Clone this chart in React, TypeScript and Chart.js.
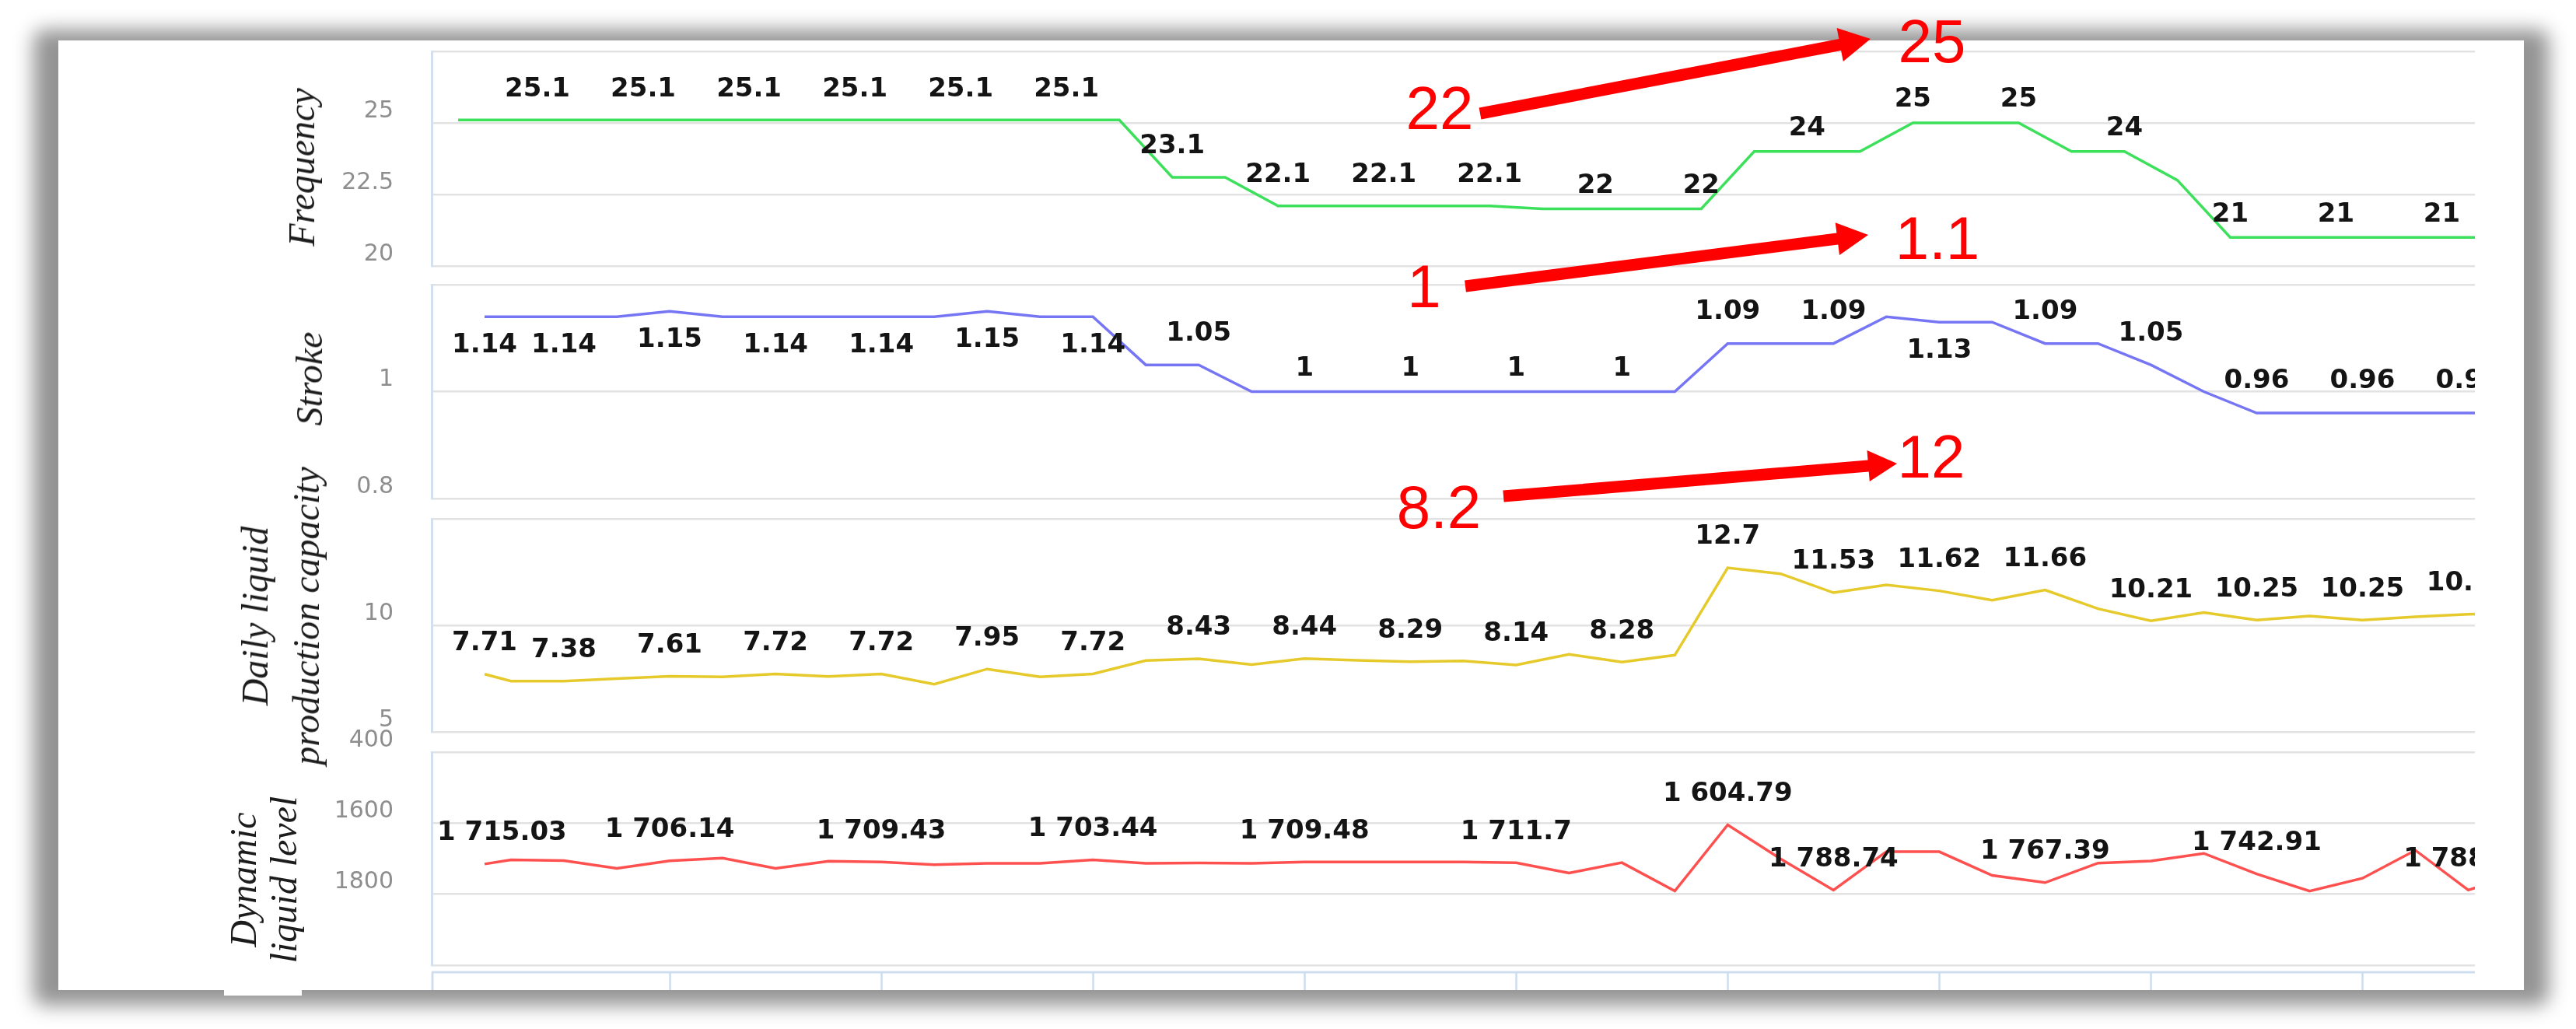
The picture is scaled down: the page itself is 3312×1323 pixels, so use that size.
import { useEffect, useRef } from 'react';
import { Chart, registerables } from 'chart.js';

Chart.register(...registerables);

// ---------------- data ----------------
// x positions are sample indices (one step = one sample slot on the shared time axis)
const freqTimes = [0, 1, 3, 5, 7, 9, 11, 13, 15, 17, 19, 21, 23, 25, 27, 29, 31, 33, 35, 37, 39, 41, 43, 45, 47, 49, 51, 53, 55, 57, 59, 61, 63, 65, 67, 69, 71, 73, 75, 77];
const freqValues = [25.1, 25.1, 25.1, 25.1, 25.1, 25.1, 25.1, 25.1, 25.1, 25.1, 25.1, 25.1, 25.1, 25.1, 23.1, 23.1, 22.1, 22.1, 22.1, 22.1, 22.1, 22, 22, 22, 22, 24, 24, 24, 25, 25, 25, 24, 24, 23, 21, 21, 21, 21, 21, 21];

const sampleTimes = [1, 2, 4, 6, 8, 10, 12, 14, 16, 18, 20, 22, 24, 26, 28, 30, 32, 34, 36, 38, 40, 42, 44, 46, 48, 50, 52, 54, 56, 58, 60, 62, 64, 66, 68, 70, 72, 74, 76, 78];
const strokeValues = [1.14, 1.14, 1.14, 1.14, 1.15, 1.14, 1.14, 1.14, 1.14, 1.14, 1.15, 1.14, 1.14, 1.05, 1.05, 1, 1, 1, 1, 1, 1, 1, 1, 1, 1.09, 1.09, 1.09, 1.14, 1.13, 1.13, 1.09, 1.09, 1.05, 1, 0.96, 0.96, 0.96, 0.96, 0.96, 0.96];
const dailyValues = [7.71, 7.38, 7.38, 7.5, 7.61, 7.58, 7.72, 7.6, 7.72, 7.24, 7.95, 7.58, 7.72, 8.35, 8.43, 8.16, 8.44, 8.36, 8.29, 8.33, 8.14, 8.64, 8.28, 8.6, 12.7, 12.42, 11.53, 11.9, 11.62, 11.18, 11.66, 10.78, 10.21, 10.6, 10.25, 10.44, 10.25, 10.4, 10.52, 10.6];
const levelValues = [1715.03, 1703.2, 1705.26, 1727.1, 1706.14, 1698.4, 1727.35, 1707.2, 1709.43, 1717.1, 1713.12, 1713.3, 1703.44, 1713.2, 1712.31, 1713.1, 1709.48, 1709.3, 1709.21, 1709.1, 1711.7, 1740.2, 1711.26, 1791.1, 1604.79, 1700.3, 1788.74, 1680.2, 1680.52, 1747.3, 1767.39, 1712.4, 1706.33, 1685.2, 1742.91, 1791.3, 1755.21, 1676.4, 1788.35, 1740.2];

const freqTickValues = [20, 22.5, 25, 27.5];
const freqTickLabels = ['20', '22.5', '25', ''];
const strokeTickValues = [0.8, 1, 1.2];
const strokeTickLabels = ['0.8', '1', ''];
const dailyTickValues = [5, 10, 15];
const dailyTickLabels = ['5', '10', ''];
const levelTickValues = [1400, 1600, 1800, 2000];
const levelTickLabels = ['400', '1600', '1800', ''];

const axisTickTimes = [8, 16, 24, 32, 40, 48, 56, 64, 72];

const titles = ['Frequency', 'Stroke', 'Daily liquid\nproduction capacity', 'Dynamic\nliquid level'];

const changeNotes = [
  { from: '22', to: '25' },
  { from: '1', to: '1.1' },
  { from: '8.2', to: '12' },
];

// ---------------- layout ----------------
const FRAME = { left: 75, top: 52, width: 3170, height: 1221 };
const PLOT_RIGHT = 3182; // page x of plot right edge
const AXIS_W = 555 - FRAME.left; // y axis width inside frame
const CANVAS_W = PLOT_RIGHT - FRAME.left;
const X_MIN = -1;
const X_MAX = 76.25;
const PAD = 74;

type Spec = {
  times: number[];
  values: number[];
  color: string;
  min: number;
  max: number;
  reverse?: boolean;
  tickValues: number[];
  tickLabels: string[];
  plotTop: number; // page coords
  plotBottom: number;
  labelPhase: number;
  labelFirst: boolean;
  labelDy: (v: number) => number;
  strip?: boolean;
};

const specs: Spec[] = [
  {
    times: freqTimes, values: freqValues, color: '#3de05b', min: 20, max: 27.5,
    tickValues: freqTickValues, tickLabels: freqTickLabels, plotTop: 66, plotBottom: 342,
    labelPhase: 3, labelFirst: false, labelDy: (v) => (Number.isInteger(v) ? -33 : -43),
  },
  {
    times: sampleTimes, values: strokeValues, color: '#7676f4', min: 0.8, max: 1.2,
    tickValues: strokeTickValues, tickLabels: strokeTickLabels, plotTop: 366, plotBottom: 641,
    labelPhase: 0, labelFirst: true, labelDy: (v) => (v > 1.1 ? 33 : Number.isInteger(v) ? -33 : -44),
  },
  {
    times: sampleTimes, values: dailyValues, color: '#e6ca2c', min: 5, max: 15,
    tickValues: dailyTickValues, tickLabels: dailyTickLabels, plotTop: 667, plotBottom: 941,
    labelPhase: 0, labelFirst: true, labelDy: () => -43,
  },
  {
    times: sampleTimes, values: levelValues, color: '#ff5050', min: 1400, max: 2000, reverse: true,
    tickValues: levelTickValues, tickLabels: levelTickLabels, plotTop: 967, plotBottom: 1241,
    labelPhase: 0, labelFirst: true, labelDy: () => -43, strip: true,
  },
];

function fmt(v: number): string {
  const s = String(v);
  const [ip, dp] = s.split('.');
  const g = ip.replace(/\B(?=(\d{3})+(?!\d))/g, ' ');
  return dp !== undefined ? g + '.' + dp : g;
}

function canvasBox(spec: Spec) {
  const top = spec.plotTop - PAD - FRAME.top;
  const bottom = spec.plotBottom + PAD - FRAME.top;
  return { top, height: bottom - top };
}

function makeLabelPlugin(spec: Spec) {
  return {
    id: 'valueLabels',
    afterDatasetsDraw(chart: any) {
      const ctx: CanvasRenderingContext2D = chart.ctx;
      const xs = chart.scales.x;
      const ys = chart.scales.y;
      const area = chart.chartArea;
      ctx.save();
      ctx.beginPath();
      ctx.rect(area.left, 0, area.right - area.left, chart.height);
      ctx.clip();
      ctx.font = 'bold 34px "DejaVu Sans"';
      ctx.fillStyle = '#141414';
      ctx.textAlign = 'center';
      ctx.textBaseline = 'alphabetic';
      const boxes: { l: number; r: number; t: number; b: number }[] = [];
      spec.times.forEach((t, i) => {
        if (!(t % 4 === spec.labelPhase || (spec.labelFirst && i === 0))) return;
        const v = spec.values[i];
        const text = fmt(v);
        const w = ctx.measureText(text).width;
        let cx = xs.getPixelForValue(t);
        const cy = ys.getPixelForValue(v) + spec.labelDy(v);
        if (cx - w / 2 < area.left + 7) cx = area.left + 7 + w / 2;
        const box = { l: cx - w / 2, r: cx + w / 2, t: cy - 28, b: cy + 28 };
        if (boxes.some((b) => b.l < box.r && box.l < b.r && b.t < box.b && box.t < b.b)) return;
        boxes.push(box);
        ctx.fillText(text, cx, cy + 12.4);
      });
      ctx.restore();
    },
  };
}

const stripPlugin = {
  id: 'axisStrip',
  afterDraw(chart: any) {
    const ctx: CanvasRenderingContext2D = chart.ctx;
    const a = chart.chartArea;
    const xs = chart.scales.x;
    const y0 = a.bottom + 9;
    ctx.save();
    ctx.strokeStyle = '#cfdeef';
    ctx.lineWidth = 3;
    ctx.beginPath();
    ctx.moveTo(a.left, y0);
    ctx.lineTo(a.right, y0);
    ctx.moveTo(a.left + 1, y0);
    ctx.lineTo(a.left + 1, chart.height);
    ctx.stroke();
    ctx.lineWidth = 2.5;
    ctx.beginPath();
    axisTickTimes.forEach((t) => {
      const x = Math.round(xs.getPixelForValue(t)) + 0.5;
      ctx.moveTo(x, y0);
      ctx.lineTo(x, chart.height);
    });
    ctx.stroke();
    ctx.restore();
  },
};

function arrowPoints(x1: number, y1: number, x2: number, y2: number, shaft: number, headLen: number, headW: number) {
  const dx = x2 - x1, dy = y2 - y1;
  const L = Math.hypot(dx, dy);
  const ux = dx / L, uy = dy / L;
  const px = -uy, py = ux;
  const bx = x2 - ux * headLen, by = y2 - uy * headLen;
  const s = shaft / 2, h = headW / 2;
  const pts = [
    [x1 + px * s, y1 + py * s],
    [bx + px * s, by + py * s],
    [bx + px * h, by + py * h],
    [x2, y2],
    [bx - px * h, by - py * h],
    [bx - px * s, by - py * s],
    [x1 - px * s, y1 - py * s],
  ];
  return pts.map((p) => p[0].toFixed(1) + ',' + p[1].toFixed(1)).join(' ');
}

// annotation placement (page coords)
const notePlaces = [
  { fromX: 1851, fromY: 166, toX: 2484, toY: 80, tail: [1903, 146], tip: [2405, 50], head: [40, 44] },
  { fromX: 1831, fromY: 395, toX: 2491, toY: 333, tail: [1884, 368], tip: [2402, 302], head: [40, 42] },
  { fromX: 1850, fromY: 679, toX: 2483, toY: 614, tail: [1933, 638], tip: [2439, 596], head: [37, 40] },
];

const titlePlaces = [
  { x: 388, y: 215, lh: 60 },
  { x: 398, y: 487, lh: 60 },
  { x: 361, y: 792, lh: 66 },
  { x: 339, y: 1131, lh: 52 },
];

export default function App() {
  const refs = useRef<(HTMLCanvasElement | null)[]>([]);

  useEffect(() => {
    const charts = specs.map((spec, k) => {
      const plugins: any[] = [makeLabelPlugin(spec)];
      if (spec.strip) plugins.push(stripPlugin);
      return new Chart(refs.current[k] as HTMLCanvasElement, {
        type: 'line',
        data: {
          datasets: [
            {
              data: spec.times.map((t, i) => ({ x: t, y: spec.values[i] })),
              borderColor: spec.color,
              borderWidth: 3.5,
              pointRadius: 0,
              tension: 0,
              fill: false,
            },
          ],
        },
        options: {
          responsive: false,
          animation: false,
          events: [],
          layout: { padding: { top: PAD, bottom: PAD, left: 0, right: 0 } },
          plugins: { legend: { display: false }, tooltip: { enabled: false } },
          scales: {
            x: { type: 'linear', display: false, min: X_MIN, max: X_MAX },
            y: {
              type: 'linear',
              min: spec.min,
              max: spec.max,
              reverse: !!spec.reverse,
              afterBuildTicks: (scale: any) => {
                scale.ticks = spec.tickValues.map((v) => ({ value: v }));
              },
              afterFit: (scale: any) => {
                scale.width = AXIS_W;
              },
              grid: { color: '#e2e2e2', lineWidth: 2.5, drawTicks: false },
              border: { display: true, color: '#d3e1ef', width: 3 },
              ticks: {
                autoSkip: false,
                padding: 49,
                labelOffset: -15,
                color: '#8e8e8e',
                font: { family: '"DejaVu Sans"', size: 30 },
                callback: (_v: any, i: number) => spec.tickLabels[i],
              },
            },
          },
        },
        plugins,
      } as any);
    });
    return () => charts.forEach((c) => c.destroy());
  }, []);

  return (
    <div style={{ position: 'fixed', left: 0, top: 0, width: 3312, height: 1323, background: '#fff', overflow: 'hidden' }}>
      {/* shadow */}
      <div
        style={{
          position: 'absolute',
          left: FRAME.left - 32,
          top: FRAME.top - 14,
          width: FRAME.width + 64,
          height: FRAME.height + 34,
          background: 'rgba(0,0,0,0.42)',
          filter: 'blur(12px)',
          borderRadius: 14,
        }}
      />
      {/* white frame */}
      <div
        style={{
          position: 'absolute',
          left: FRAME.left,
          top: FRAME.top,
          width: FRAME.width,
          height: FRAME.height,
          background: '#fff',
          overflow: 'hidden',
        }}
      >
        {specs.map((spec, k) => {
          const box = canvasBox(spec);
          return (
            <canvas
              key={k}
              ref={(el) => {
                refs.current[k] = el;
              }}
              width={CANVAS_W}
              height={box.height}
              style={{ position: 'absolute', left: 0, top: box.top, width: CANVAS_W, height: box.height }}
            />
          );
        })}
        {titles.map((t, k) => (
          <div
            key={'t' + k}
            style={{
              position: 'absolute',
              left: titlePlaces[k].x - FRAME.left,
              top: titlePlaces[k].y - FRAME.top,
              transform: 'translate(-50%, -50%) rotate(-90deg)',
              whiteSpace: 'pre',
              textAlign: 'center',
              fontFamily: '"Liberation Serif", serif',
              fontStyle: 'italic',
              fontSize: 48,
              lineHeight: titlePlaces[k].lh + 'px',
              color: '#1c1c1c',
            }}
          >
            {t}
          </div>
        ))}
      </div>
      {/* small white patch under the last title */}
      <div style={{ position: 'absolute', left: 288, top: 1268, width: 100, height: 12, background: '#fff' }} />
      {/* annotations */}
      <svg
        width={3312}
        height={1323}
        style={{ position: 'absolute', left: 0, top: 0, pointerEvents: 'none' }}
      >
        {changeNotes.map((n, k) => {
          const p = notePlaces[k];
          return (
            <g key={k}>
              <polygon
                points={arrowPoints(p.tail[0], p.tail[1], p.tip[0], p.tip[1], 15, p.head[0], p.head[1])}
                fill="#ff0000"
              />
              <text x={p.fromX} y={p.fromY} textAnchor="middle" fill="#ff0000" fontFamily='"Liberation Sans", Arial, sans-serif' fontSize={78}>
                {n.from}
              </text>
              <text x={p.toX} y={p.toY} textAnchor="middle" fill="#ff0000" fontFamily='"Liberation Sans", Arial, sans-serif' fontSize={78}>
                {n.to}
              </text>
            </g>
          );
        })}
      </svg>
    </div>
  );
}
